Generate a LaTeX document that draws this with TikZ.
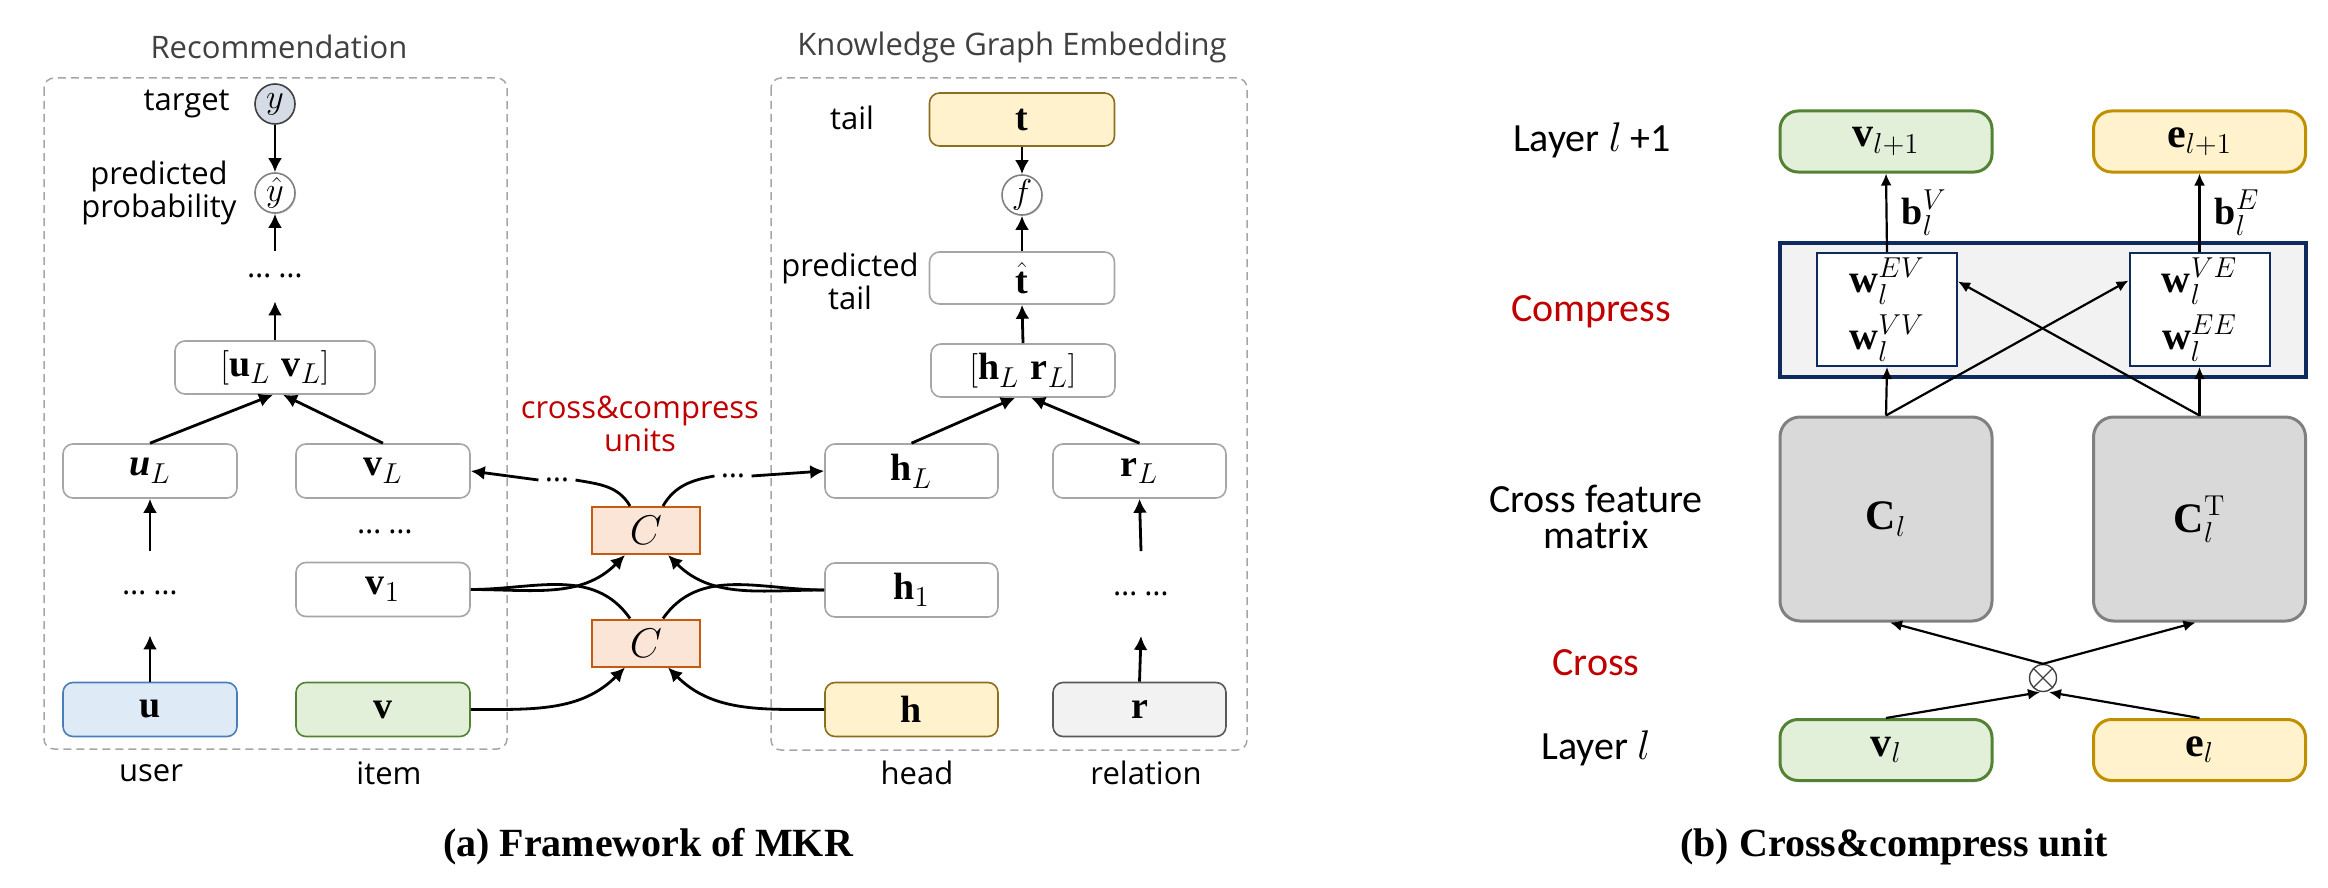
\documentclass[tikz,border=0pt]{standalone}
\usepackage[no-math]{fontspec}
\usepackage{amsmath,amssymb}
\usetikzlibrary{arrows.meta,shadows}
\newfontfamily\osans{Open Sans}
\newfontfamily\carl{Carlito}
\newfontfamily\lserif{Liberation Serif}
\newcommand\bt[1]{\text{\lserif\bfseries #1}}
\newcommand\bit[1]{\text{\lserif\bfseries\itshape #1}}
\newcommand\twodots{…\hspace{3.5pt}…}
\definecolor{boxgray}{HTML}{A6A6A6}
\definecolor{dashgray}{HTML}{A6A6A6}
\definecolor{titlegray}{HTML}{404040}
\definecolor{ufill}{HTML}{DEEBF7}
\definecolor{udraw}{HTML}{4A7EBB}
\definecolor{vfill}{HTML}{E2F0D9}
\definecolor{vdraw}{HTML}{548235}
\definecolor{hfill}{HTML}{FFF2CC}
\definecolor{hdraw}{HTML}{8B6F1E}
\definecolor{edraw}{HTML}{BF9000}
\definecolor{rfill}{HTML}{F2F2F2}
\definecolor{rdraw}{HTML}{595959}
\definecolor{cfill}{HTML}{FBE5D6}
\definecolor{cdraw}{HTML}{C55A11}
\definecolor{yfill}{HTML}{D6DCE5}
\definecolor{ydraw}{HTML}{404040}
\definecolor{redtxt}{HTML}{C00000}
\definecolor{navy}{HTML}{0E2A5E}
\definecolor{cmfill}{HTML}{D9D9D9}
\definecolor{cmdraw}{HTML}{808080}
\definecolor{compfill}{HTML}{F2F2F2}
\begin{document}
\begin{tikzpicture}[x=0.5pt,y=0.5pt,
  lab/.style={font=\osans\fontsize{15.5}{14.5}\selectfont, align=center, inner sep=0},
  ttl/.style={lab, text=titlegray},
  blab/.style={font=\carl\fontsize{20}{18}\selectfont, align=center, inner sep=0},
  capt/.style={font=\lserif\bfseries\fontsize{20}{22}\selectfont, inner sep=0},
  mbox/.style={draw=boxgray, line width=0.8pt, fill=white, rounded corners=5pt,
     minimum width=87pt, minimum height=27pt, inner sep=0, font=\fontsize{19}{20}\selectfont},
  cbox/.style={draw=cdraw, line width=1pt, fill=cfill, minimum width=54pt, minimum height=23.5pt,
     inner sep=0, font=\fontsize{20}{20}\selectfont},
  circa/.style={circle, draw=ydraw, line width=0.8pt, minimum size=20pt, inner sep=0,
     font=\fontsize{16}{16}\selectfont},
  circb/.style={circa, draw=cmdraw, fill=white, drop shadow={opacity=0.25, shadow xshift=0.6pt, shadow yshift=-0.6pt}},
  dotsn/.style={inner sep=0, font=\osans\fontsize{15.5}{15}\selectfont},
  sdots/.style={inner sep=3pt, font=\osans\fontsize{15.5}{15}\selectfont},
  dashbox/.style={draw=dashgray, line width=0.75pt, dash pattern=on 4pt off 2.5pt, rounded corners=5pt},
  arr/.style={-{Latex[length=7pt,width=7pt]}, line width=1.4pt},
  ln/.style={line width=1.4pt},
  bbox/.style={line width=1.5pt, rounded corners=9pt, minimum width=106pt, minimum height=30.5pt,
     inner sep=0, font=\fontsize{21}{21}\selectfont},
  wbox/.style={draw=navy, line width=1pt, fill=white, minimum width=70pt, minimum height=56.5pt,
     inner sep=0, align=center, font=\fontsize{20}{28.5}\selectfont},
  cmbox/.style={draw=cmdraw, fill=cmfill, line width=1.5pt, rounded corners=10pt,
     minimum width=106pt, minimum height=102pt, inner sep=0, font=\fontsize{21}{21}\selectfont},
  barr/.style={-{Latex[length=6pt,width=5.5pt]}, line width=1.1pt}
]
\useasboundingbox (0,0) rectangle (2328,-888);

% ---------------- panel (a) ----------------
\draw[dashbox] (44,-78) rectangle (507,-749);
\draw[dashbox] (771,-78) rectangle (1247,-750);
\node[ttl, font=\osans\fontsize{15.5}{16}\selectfont] (rectitle) at (279,-47) {Recommendation};
\node[ttl, font=\osans\fontsize{15.5}{16}\selectfont] (kgtitle) at (1012,-47) {Knowledge Graph Embedding};

\node[circa, fill=yfill] (y) at (275,-104) {$y$};
\node[circb] (yh) at (275,-193) {$\hat{y}$};
\node[lab, anchor=east] (targ) at (230,-104) {target};
\node[lab] (pp) at (159,-193) {predicted\\probability};
\node[dotsn, minimum height=25pt] (d1) at (275,-276) {\twodots};
\node[mbox, minimum width=100pt, minimum height=26.5pt] (uv) at (275,-367.5) {$[\bt{u}_L\ \bt{v}_L]$};
\node[mbox] (uL) at (150,-471) {$\bit{u}_L$};
\node[mbox] (vL) at (383,-471) {$\bt{v}_L$};
\node[dotsn] (d3) at (385,-532) {\twodots};
\node[mbox] (v1) at (383,-589.5) {$\bt{v}_1$};
\node[dotsn, minimum height=42pt] (d2) at (150,-593) {\twodots};
\node[mbox, fill=ufill, draw=udraw] (u) at (150,-709.5) {$\bt{u}$};
\node[mbox, fill=vfill, draw=vdraw] (v) at (383,-709.5) {$\bt{v}$};
\node[lab] (userl) at (151,-773) {user};
\node[lab] (iteml) at (389,-773) {item};

\node[cbox] (C1) at (646,-530.5) {$C$};
\node[cbox] (C2) at (646,-643) {$C$};
\node[lab, text=redtxt, font=\osans\fontsize{15.5}{16.5}\selectfont] (ccu) at (640,-424) {cross\&compress\\units};
\node[sdots] (dL) at (557,-480) {…};
\node[sdots] (dR) at (733,-476) {…};

\node[mbox, fill=hfill, draw=hdraw, minimum width=92.5pt, minimum height=26.5pt] (t) at (1022,-119.5) {$\bt{t}$};
\node[lab] (taill) at (852,-118) {tail};
\node[circb] (f) at (1022,-195) {$f$};
\node[mbox, minimum width=92.5pt, minimum height=26pt] (th) at (1022,-278) {$\hat{\bt{t}}$};
\node[lab] (ptl) at (850,-281) {predicted\\tail};
\node[mbox, minimum width=92pt, minimum height=26.5pt] (hr) at (1023,-370.5) {$[\bt{h}_L\ \bt{r}_L]$};
\node[mbox, minimum width=86.5pt] (hL) at (911.5,-471) {$\bt{h}_L$};
\node[mbox, minimum width=86.5pt] (rL) at (1139.5,-471) {$\bt{r}_L$};
\node[mbox, minimum width=86.5pt] (h1) at (911.5,-590) {$\bt{h}_1$};
\node[dotsn, minimum height=42pt] (d4) at (1141,-593.5) {\twodots};
\node[mbox, fill=hfill, draw=hdraw, minimum width=86.5pt] (h) at (911.5,-709.5) {$\bt{h}$};
\node[mbox, fill=rfill, draw=rdraw, minimum width=86.5pt] (r) at (1139.5,-709.5) {$\bt{r}$};
\node[lab] (headl) at (917,-773) {head};
\node[lab] (rell) at (1146,-773) {relation};

% connectors (a)
\draw[arr] (y.south) -- (yh.north);
\draw[arr] (d1.north) -- (yh.south);
\draw[arr] (uv.north) -- (d1.south);
\draw[arr] (uL.north) -- ([xshift=-1pt]uv.south);
\draw[arr] (vL.north) -- ([xshift=4pt]uv.south);
\draw[arr] (d2.north) -- (uL.south);
\draw[arr] (u.north) -- (d2.south);

\draw[arr] (t.south) -- (f.north);
\draw[arr] (th.north) -- (f.south);
\draw[arr] (hr.north) -- (th.south);
\draw[arr] (hL.north) -- ([xshift=-4pt]hr.south);
\draw[arr] (rL.north) -- ([xshift=4pt]hr.south);
\draw[arr] (d4.north) -- (rL.south);
\draw[arr] (r.north) -- (d4.south);

\draw[arr] (v1.east) to[out=0,in=225] ([xshift=-10.5pt]C1.south);
\draw[ln] ([xshift=-8pt]C2.north) to[out=125,in=0] (v1.east);
\draw[arr] (v.east) to[out=0,in=225] ([xshift=-10.5pt]C2.south);
\draw[arr] (h1.west) to[out=180,in=-45] ([xshift=11pt]C1.south);
\draw[ln] ([xshift=8.5pt]C2.north) to[out=55,in=180] (h1.west);
\draw[arr] (h.west) to[out=180,in=-45] ([xshift=11pt]C2.south);
\draw[ln] ([xshift=-8pt]C1.north) to[out=120,in=-10] (dL.east);
\draw[arr] (dL.west) -- (vL.east);
\draw[ln] ([xshift=8.5pt]C1.north) to[out=60,in=190] (dR.west);
\draw[arr] (dR.east) -- (hL.west);

\node[capt] (capa) at (648,-847) {(a) Framework of MKR};

% ---------------- panel (b) ----------------
\node[blab] (lay1) at (1592,-140) {Layer $l$ +1};
\node[blab, text=redtxt] (compl) at (1591,-312) {Compress};
\node[blab] (cfm) at (1596,-517) {Cross feature\\matrix};
\node[blab, text=redtxt] (crossl) at (1596,-663) {Cross};
\node[blab] (lay0) at (1596,-748) {Layer $l$};

\node[bbox, fill=vfill, draw=vdraw] (vn) at (1886,-141.5) {$\bt{v}_{l+1}$};
\node[bbox, fill=hfill, draw=edraw] (en) at (2199.5,-141.5) {$\bt{e}_{l+1}$};
\node[draw=navy, fill=compfill, line width=2pt, minimum width=263pt, minimum height=67pt, inner sep=0] (comp) at (2043,-310) {};
\node[wbox] (W1) at (1887,-309.5) {$\bt{w}_l^{EV}$\\$\bt{w}_l^{VV}$};
\node[wbox] (W2) at (2199.5,-309.5) {$\bt{w}_l^{VE}$\\$\bt{w}_l^{EE}$};
\node[cmbox] (Cl) at (1886,-519) {$\bt{C}_l$};
\node[cmbox] (CT) at (2199.5,-519) {$\bt{C}_l^{\mathrm{T}}$};
\node[circle, draw=ydraw, fill=white, line width=0.7pt, minimum size=13.5pt, inner sep=0,
  path picture={\draw[line width=0.6pt, ydraw] (path picture bounding box.north west) -- (path picture bounding box.south east)
     (path picture bounding box.north east) -- (path picture bounding box.south west);}] (ot) at (2043,-678) {};
\node[bbox, fill=vfill, draw=vdraw] (vl) at (1886,-750) {$\bt{v}_l$};
\node[bbox, fill=hfill, draw=edraw] (el) at (2199.5,-750) {$\bt{e}_l$};

\draw[barr] (Cl.north) -- (W1.south);
\draw[barr] (CT.north) -- (W2.south);
\draw[barr] (Cl.north) -- ([yshift=14.5pt]W2.west);
\draw[barr] (CT.north) -- ([yshift=14pt]W1.east);
\draw[barr] (W1.north) -- node[right, inner sep=0, xshift=7pt, font=\fontsize{19}{19}\selectfont] (bv) {$\bt{b}_l^{V}$} (vn.south);
\draw[barr] (W2.north) -- node[right, inner sep=0, xshift=7pt, font=\fontsize{19}{19}\selectfont] (be) {$\bt{b}_l^{E}$} (en.south);
\draw[barr] (ot.north) -- ([xshift=2pt]Cl.south);
\draw[barr] (ot.north) -- ([xshift=-2pt]CT.south);
\draw[barr] (vl.north) -- ([xshift=-1.5pt]ot.south);
\draw[barr] (el.north) -- ([xshift=3pt]ot.south);

\node[capt] (capb) at (1894,-847) {(b) Cross\&compress unit};
\end{tikzpicture}
\end{document}
